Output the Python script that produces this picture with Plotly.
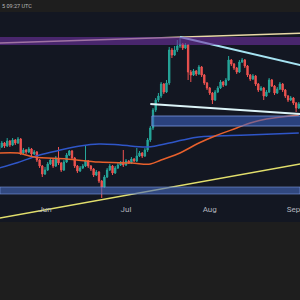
import pandas as pd
import plotly.graph_objects as go

# ---- data (daily candles, arbitrary price units) ----
start_date = "2024-05-15"
n_days = 112
opens = [100,103,107,104,109,105,110,107,111,97,
         100,98,101,96,98,90,84,76,80,86,
         90,84,92,87,80,88,95,99,92,84,
         79,82,84,89,84,81,75,78,69,63,
         73,80,84,77,82,85,88,85,89,87,
         91,89,94,97,94,100,110,122,140,150,
         154,166,158,167,200,195,200,204,206,202,
         205,178,175,179,176,183,175,167,162,157,
         150,158,162,168,165,170,190,186,182,178,
         188,190,184,175,171,174,166,160,162,154,
         158,170,164,157,161,166,160,154,150,152,
         147,142]
highs = [105,109,108,112,110,112,111,113,112,102,
         101,103,102,100,99,91,85,83,88,92,
         91,94,103,88,90,97,100,100,93,85,
         84,86,105,90,85,82,80,79,70,75,
         82,86,85,84,87,89,100,91,90,93,
         92,102,99,98,102,112,124,142,152,157,
         168,167,170,203,202,204,210,213,207,207,
         206,180,181,180,185,184,176,168,163,158,
         160,164,170,169,172,194,191,187,183,190,
         192,191,185,176,176,175,167,164,163,160,
         172,171,165,163,168,167,161,155,154,153,
         148,148]
lows = [98,102,102,103,103,104,105,106,95,96,
        96,97,94,95,88,82,73,75,79,85,
        82,83,85,78,79,87,94,90,82,77,
        78,81,83,82,79,73,74,67,52,62,
        72,79,75,76,81,84,83,84,86,86,
        88,88,93,92,93,98,108,120,138,148,
        152,156,157,165,192,194,198,202,200,201,
        170,168,174,174,175,173,165,160,155,146,
        149,157,161,163,164,169,184,180,176,177,
        187,182,173,169,170,164,158,159,150,153,
        157,163,155,156,160,158,152,148,149,145,
        138,141]
closes = [103,107,104,109,105,110,107,111,97,100,
          98,101,96,98,90,84,76,80,86,90,
          84,92,87,80,88,95,99,92,84,79,
          82,84,89,84,81,75,78,69,63,73,
          80,84,77,82,85,88,85,89,87,91,
          89,94,97,94,100,110,122,140,150,154,
          166,158,167,200,195,200,204,206,202,205,
          178,175,179,176,183,175,167,162,157,150,
          158,162,168,165,170,190,186,182,178,188,
          190,184,175,171,174,166,160,162,154,158,
          170,164,157,161,166,160,154,150,152,147,
          142,146]

blue_ma_dates = ["2024-05-15","2024-05-22","2024-05-30","2024-06-06","2024-06-14","2024-06-21",
                 "2024-06-29","2024-07-09","2024-07-17","2024-07-22","2024-07-28","2024-08-15","2024-09-03"]
blue_ma_vals = [82,87.5,95,99.5,104,106,105,103,107,110,113,115,117]

orange_ma_dates = ["2024-05-15","2024-05-22","2024-05-28","2024-06-09","2024-06-21","2024-07-03",
                   "2024-07-10","2024-07-14","2024-07-21","2024-07-28","2024-08-03","2024-08-11",
                   "2024-08-16","2024-08-22","2024-09-03"]
orange_ma_vals = [97,97,93,91,88,87,86,90,97,107,114,122,127,131,135]

# trendlines
tan_dates, tan_vals = ["2024-05-14", "2024-09-05"], [207, 217]
cyan_dates, cyan_vals = ["2024-07-21", "2024-09-05"], [213, 184]
white_dates, white_vals = ["2024-07-10", "2024-09-05"], [146, 135.7]
yellow_dates, yellow_vals = ["2024-05-14", "2024-09-05"], [31.4, 86.8]

# zones
purple_zone = [205, 213]
upper_zone_x = ["2024-07-10 14:00", "2024-09-06"]
upper_zone = [124, 134]
lower_zone = [56, 63]

month_ticks = ["2024-06-01", "2024-07-01", "2024-08-01", "2024-09-01"]
month_labels = ["Jun", "Jul", "Aug", "Sep"]
header_text = "5 09:27 UTC"

dates = pd.date_range(start_date, periods=n_days, freq="D")

NAVY = "#131722"
GRAY = "#1e1e1e"

fig = go.Figure()

fig.add_trace(go.Scatter(x=blue_ma_dates, y=blue_ma_vals, mode="lines",
                         line=dict(color="#2f56c8", width=1.5, shape="spline"), hoverinfo="skip"))
fig.add_trace(go.Scatter(x=orange_ma_dates, y=orange_ma_vals, mode="lines",
                         line=dict(color="#e8602c", width=1.5, shape="spline"), hoverinfo="skip"))

fig.add_trace(go.Candlestick(
    x=dates, open=opens, high=highs, low=lows, close=closes,
    increasing=dict(line=dict(color="#26a69a", width=1), fillcolor="#26a69a"),
    decreasing=dict(line=dict(color="#ef5350", width=1), fillcolor="#ef5350"),
    whiskerwidth=0, hoverinfo="skip"))

for xs, ys, col, w in [(tan_dates, tan_vals, "#e9d9a6", 1.5),
                       (cyan_dates, cyan_vals, "#a6e3f2", 2),
                       (white_dates, white_vals, "#dcf4f8", 2),
                       (yellow_dates, yellow_vals, "#e2df6c", 1.5)]:
    fig.add_trace(go.Scatter(x=xs, y=ys, mode="lines", line=dict(color=col, width=w), hoverinfo="skip"))

# zones
fig.add_shape(type="rect", xref="paper", yref="y", x0=0, x1=1, y0=purple_zone[0], y1=purple_zone[1],
              fillcolor="rgba(110,48,160,0.6)", line=dict(width=0), layer="above")
fig.add_shape(type="rect", xref="x", yref="y", x0=upper_zone_x[0], x1=upper_zone_x[1],
              y0=upper_zone[0], y1=upper_zone[1],
              fillcolor="rgba(62,100,200,0.55)", line=dict(color="rgba(120,150,225,0.8)", width=1), layer="above")
fig.add_shape(type="rect", xref="paper", yref="y", x0=0, x1=1, y0=lower_zone[0], y1=lower_zone[1],
              fillcolor="rgba(70,105,190,0.6)", line=dict(color="rgba(120,150,225,0.6)", width=1), layer="above")

fig.add_annotation(text=header_text, xref="paper", yref="paper", x=0.0, y=0.98,
                   xanchor="left", yanchor="middle", showarrow=False,
                   font=dict(size=5.5, color="#b8b8b8", family="Roboto"))

fig.update_layout(
    width=300, height=300, margin=dict(l=0, r=0, t=0, b=0),
    paper_bgcolor=GRAY, plot_bgcolor=NAVY, showlegend=False,
    xaxis=dict(range=["2024-05-15 08:00", "2024-09-03 10:30"], domain=[0, 1],
               rangeslider=dict(visible=False), showgrid=False, zeroline=False,
               showline=False, ticks="", tickvals=month_ticks, ticktext=month_labels,
               tickfont=dict(size=8, color="#b2b5be", family="Roboto"),
               ticklabeloverflow="allow",
               anchor="free", position=0.3233),
    yaxis=dict(range=[28, 238], domain=[0.26, 0.96], visible=False, showgrid=False),
)

fig.write_html("out.html")
